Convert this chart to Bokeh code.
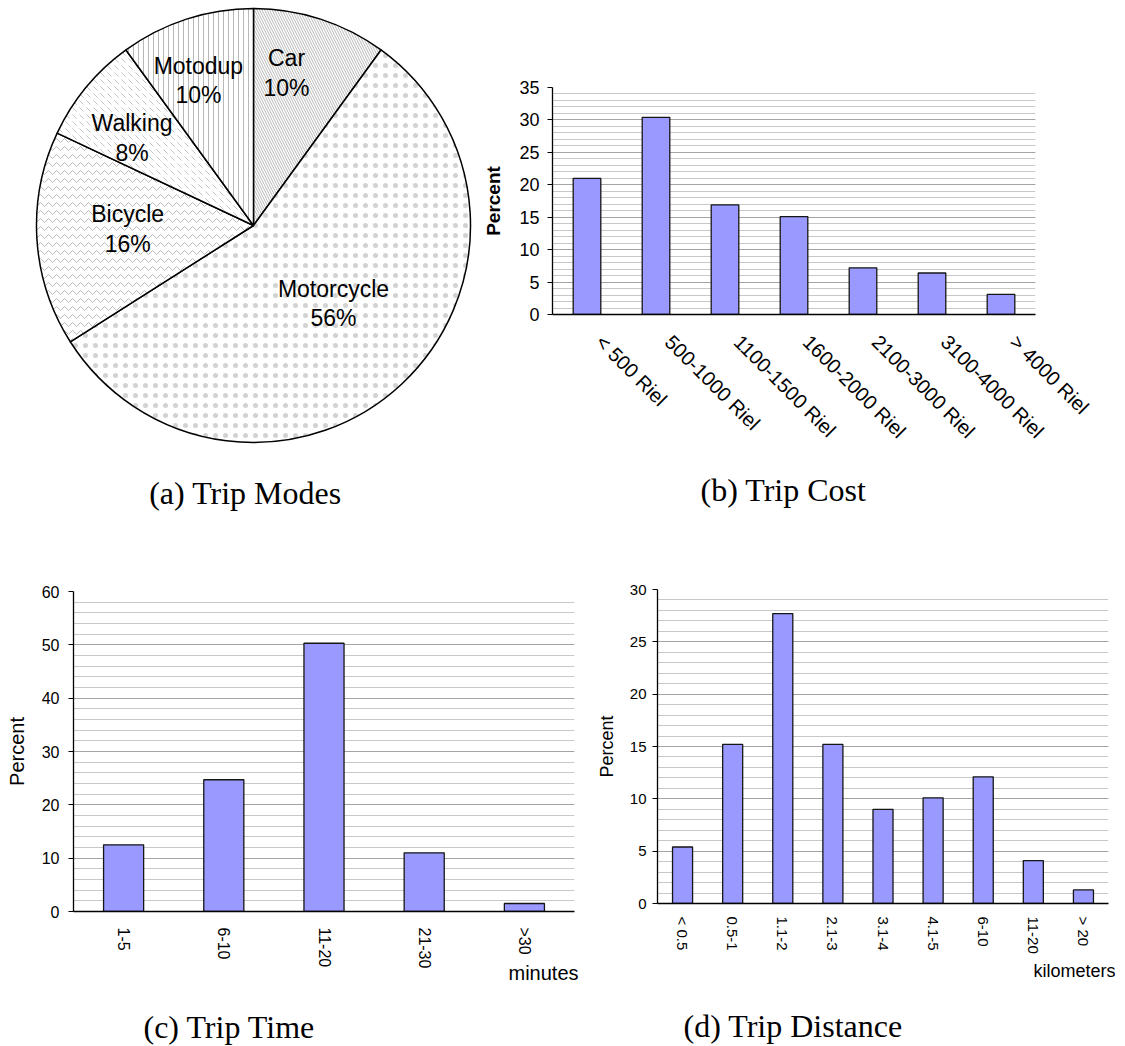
import numpy as np
from jinja2 import Template
from bokeh.plotting import figure
from bokeh.models import (ColumnDataSource, Range1d, FixedTicker, SingleIntervalTicker,
                          Label, Title)
from bokeh.embed import file_html
from bokeh.resources import INLINE
from bokeh.core.properties import value

# ---- data -------------------------------------------------------------
# trip modes, share of trips (%), clockwise from 12 o'clock
mode_names = ["Car", "Motorcycle", "Bicycle", "Walking", "Motodup"]
mode_shares = [10, 56, 16, 8, 10]

# trip cost
cost_labels = ["< 500 Riel", "500-1000 Riel", "1100-1500 Riel", "1600-2000 Riel",
               "2100-3000 Riel", "3100-4000 Riel", "> 4000 Riel"]
cost_pct = [21.0, 30.4, 16.9, 15.1, 7.2, 6.4, 3.1]

# trip time (minutes)
time_labels = ["1-5", "6-10", "11-20", "21-30", ">30"]
time_pct = [12.5, 24.7, 50.3, 11.0, 1.5]

# trip distance (kilometers)
dist_labels = ["< 0.5", "0.5-1", "1.1-2", "2.1-3", "3.1-4", "4.1-5", "6-10", "11-20", "> 20"]
dist_pct = [5.4, 15.2, 27.7, 15.2, 9.0, 10.1, 12.1, 4.1, 1.3]

# ---- styling ----------------------------------------------------------
SANS = "Liberation Sans"
SERIF = "Liberation Serif"
BAR_FILL = "#9999ff"
BAR_EDGE = "#161616"
CAPTION_PX = "32px"

# hatch for each pie slice, in the order of mode_names
slice_hatch = ["left_diagonal_line", "dot", "horizontal_wave", "left_diagonal_dash", "vertical_line"]
slice_hatch_scale = [5, 10, 8, 7, 5]
slice_hatch_color = ["#b8b8b8", "#d2d2d2", "#bcbcbc", "#c4c4c4", "#b8b8b8"]
slice_hatch_weight = [1, 0.5, 1, 1, 1]
# where each slice label sits: fraction of the radius and a small turn (deg, clockwise)
label_radius = [0.72, 0.515, 0.58, 0.69, 0.715]
label_turn = [-5.8, -2.5, 2.2, -3.8, -2.8]


def bottom_text(p, text, font, size, offset, standoff):
    p.add_layout(Title(text=text, align="left", offset=offset, standoff=standoff,
                       text_font=font, text_font_size=size, text_font_style="normal",
                       text_color="black"), "below")


def bottom_gap(p, gap):
    # blank band that pushes the caption further down
    p.add_layout(Title(text=" ", text_font_size="1px", standoff=gap), "below")


def bar_chart(cats, vals, *, width, height, borders, ymax, step, n_minor,
              tick_px, xtick_px, title_px, title_bold, label_angle, label_shift,
              x_standoff, y_standoff, ylabel_standoff):
    left, right, top, bottom = borders
    n = len(cats)
    p = figure(width=width, height=height, output_backend="svg", toolbar_location=None,
               x_range=Range1d(-0.5, n - 0.5), y_range=Range1d(0, ymax),
               min_border_left=left, min_border_right=right,
               min_border_top=top, min_border_bottom=bottom)
    p.outline_line_color = None
    p.background_fill_color = "white"
    p.border_fill_color = "white"

    src = ColumnDataSource(dict(x=list(range(n)), top=vals))
    p.vbar(x="x", top="top", width=0.4, source=src, fill_color=BAR_FILL,
           line_color=BAR_EDGE, line_width=1.3)

    xa = p.xaxis[0]
    ticks = [i + label_shift for i in range(n)]
    xa.ticker = FixedTicker(ticks=ticks)
    xa.major_label_overrides = {t: c for t, c in zip(ticks, cats)}
    xa.major_label_orientation = label_angle
    xa.major_label_standoff = x_standoff
    xa.major_tick_out = 0
    xa.major_tick_in = 0
    xa.minor_tick_out = 0
    xa.minor_tick_in = 0
    xa.axis_line_color = "black"
    xa.axis_line_width = 1.3
    xa.major_label_text_font = SANS
    xa.major_label_text_font_size = xtick_px
    xa.major_label_text_color = "black"

    ya = p.yaxis[0]
    ya.ticker = SingleIntervalTicker(interval=step, num_minor_ticks=n_minor)
    ya.major_tick_out = 5
    ya.major_tick_in = 0
    ya.minor_tick_out = 0
    ya.minor_tick_in = 0
    ya.major_tick_line_color = "black"
    ya.axis_line_color = "black"
    ya.axis_line_width = 1.3
    ya.major_label_standoff = y_standoff
    ya.major_label_text_font = SANS
    ya.major_label_text_font_size = tick_px
    ya.major_label_text_color = "black"
    ya.axis_label = "Percent"
    ya.axis_label_text_font = SANS
    ya.axis_label_text_font_size = title_px
    ya.axis_label_text_font_style = "bold" if title_bold else "normal"
    ya.axis_label_text_color = "black"
    ya.axis_label_standoff = ylabel_standoff

    p.xgrid.visible = False
    p.ygrid.grid_line_color = "#a4a4a4"
    p.ygrid.minor_grid_line_color = "#c8c8c8"
    return p


# ---- (a) pie of trip modes --------------------------------------------
PIE_R_PX = 217.0
pie_w, pie_h = 480, 530
cx, cy = 253.0, 225.0
pie = figure(width=pie_w, height=pie_h, output_backend="svg", toolbar_location=None,
             x_range=Range1d(-cx / PIE_R_PX, (pie_w - cx) / PIE_R_PX),
             y_range=Range1d(-(pie_h - cy) / PIE_R_PX, cy / PIE_R_PX),
             x_axis_type=None, y_axis_type=None, min_border=0)
pie.outline_line_color = None
pie.background_fill_color = "white"
pie.border_fill_color = "white"

shares = np.array(mode_shares, dtype=float) / sum(mode_shares)
edges = np.concatenate([[0.0], np.cumsum(shares)])
start = np.pi / 2 - 2 * np.pi * edges[:-1]
end = np.pi / 2 - 2 * np.pi * edges[1:]
pie_src = ColumnDataSource(dict(start=start, end=end, hatch=slice_hatch,
                                hscale=slice_hatch_scale, hcolor=slice_hatch_color,
                                hweight=slice_hatch_weight))
pie.wedge(x=0, y=0, radius=1, start_angle="start", end_angle="end", direction="clock",
          source=pie_src, fill_color="white", line_color="black", line_width=1.5,
          hatch_pattern="hatch", hatch_scale="hscale", hatch_color="hcolor",
          hatch_weight="hweight")

mid = np.pi / 2 - 2 * np.pi * (edges[:-1] + shares / 2) - np.radians(label_turn)
lab_src = ColumnDataSource(dict(
    x=np.array(label_radius) * np.cos(mid),
    y=np.array(label_radius) * np.sin(mid),
    text=[f"{n}\n{s}%" for n, s in zip(mode_names, mode_shares)]))
pie.text(x="x", y="y", text="text", source=lab_src, text_font=value(SANS),
         text_font_size="23px", text_align="center", text_baseline="middle",
         text_line_height=1.15, text_color="black")
pie.add_layout(Label(x=245, y=pie_h - 492, x_units="screen", y_units="screen",
                     text="(a) Trip Modes", text_font=SERIF, text_font_size=CAPTION_PX,
                     text_color="black", text_align="center", text_baseline="middle"))

# ---- (b) trip cost ----------------------------------------------------
pb = bar_chart(cost_labels, cost_pct, width=645, height=530, borders=(67, 90, 87, 216),
               ymax=35, step=5, n_minor=5, tick_px="18px", xtick_px="20px",
               title_px="19px", title_bold=True, label_angle=-np.pi / 4, label_shift=0.18,
               x_standoff=24, y_standoff=8, ylabel_standoff=12)
bottom_gap(pb, 14)
bottom_text(pb, "(b) Trip Cost", SERIF, CAPTION_PX, 148, 0)

# ---- (c) trip time ----------------------------------------------------
pc = bar_chart(time_labels, time_pct, width=590, height=516, borders=(73, 16, 61, 135),
               ymax=60, step=10, n_minor=5, tick_px="16px", xtick_px="16px",
               title_px="20px", title_bold=False, label_angle=-np.pi / 2, label_shift=0,
               x_standoff=16, y_standoff=9, ylabel_standoff=11)
bottom_text(pc, "minutes", SANS, "20px", 435, -23)
bottom_gap(pc, 31)
bottom_text(pc, "(c) Trip Time", SERIF, CAPTION_PX, 70, 0)

# ---- (d) trip distance ------------------------------------------------
pd_ = bar_chart(dist_labels, dist_pct, width=535, height=516, borders=(67, 17, 59, 143),
                ymax=30, step=5, n_minor=5, tick_px="15px", xtick_px="15px",
                title_px="18px", title_bold=False, label_angle=-np.pi / 2, label_shift=0,
                x_standoff=13, y_standoff=6, ylabel_standoff=10)
bottom_text(pd_, "kilometers", SANS, "18px", 376, 4)
bottom_gap(pd_, 20)
bottom_text(pd_, "(d) Trip Distance", SERIF, CAPTION_PX, 26, 0)

# four panels flow into a 2 x 2 sheet, each keeping its own frame geometry
page = Template("""{% extends base %}
{% block postamble %}
<style>
  html, body { margin: 0; padding: 0; background: #ffffff; }
  body { display: flex; flex-wrap: wrap; align-content: flex-start; width: 1125px; }
</style>
{% endblock %}""")

html = file_html([pie, pb, pc, pd_], INLINE, title="Trip characteristics", template=page)
open("out.html", "w").write(html)
